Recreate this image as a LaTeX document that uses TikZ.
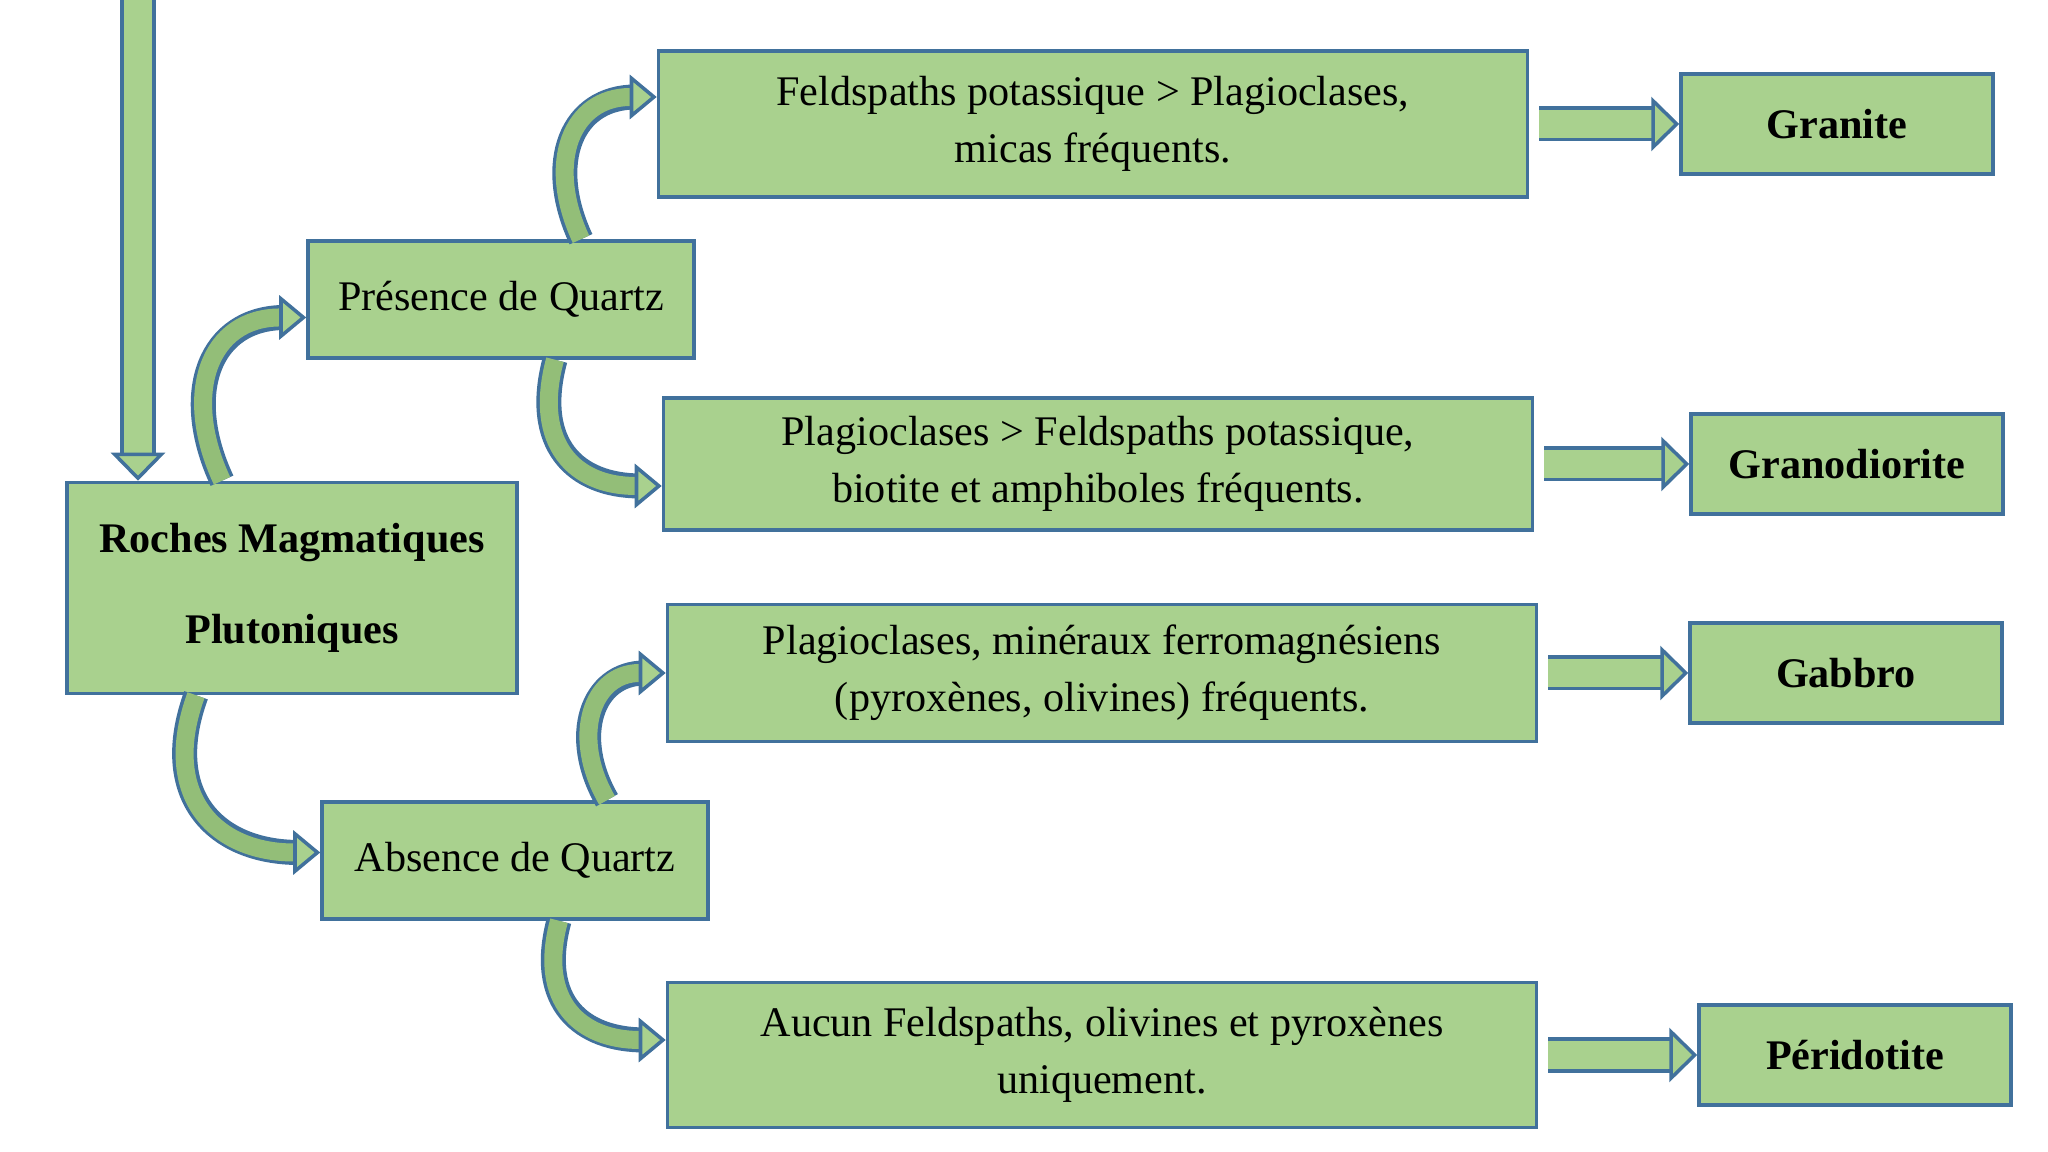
\documentclass[tikz,border=0pt]{standalone}
\usepackage{fontspec}
\setmainfont{Liberation Serif}
\usetikzlibrary{arrows.meta,positioning,calc}
\definecolor{leaf}{HTML}{A9D18E}
\definecolor{leafd}{HTML}{93BE78}
\definecolor{edge}{HTML}{41719C}
\tikzset{
  box/.style={draw=edge,line width=1pt,fill=leaf,align=center,inner sep=3pt,font=\fontsize{12}{16.3}\selectfont},
  mbox/.style={box,minimum width=8.69cm},
  qbox/.style={box,minimum width=3.86cm,minimum height=1.17cm},
  rbox/.style={box,minimum width=3.12cm,minimum height=1.0cm,font=\fontsize{12}{16.3}\selectfont\bfseries},
  blk/.style={line width=0.28cm,draw=leaf,
    preaction={draw=edge,line width=0.28cm+2pt,-,shorten >=7pt},
    -{Triangle[length=0.28cm,width=0.54cm,color=edge,fill=leaf,line width=1pt]}},
  cblk/.style={line width=0.18cm,draw=leafd,looseness=1.35,
    preaction={draw=edge,line width=0.18cm+2pt,-,shorten >=6pt},
    -{Triangle[length=0.27cm,width=0.44cm,color=edge,fill=leaf,line width=1pt]}},
}

\begin{document}
\begin{tikzpicture}
  \useasboundingbox (0,0) rectangle (20.48,11.52);
  \node[box,minimum width=4.5cm,minimum height=2.11cm,font=\fontsize{12}{16.3}\selectfont\bfseries]
       (roches) at (2.92,5.64) {Roches Magmatiques\\[9.5pt]Plutoniques};
  \node[qbox,above=1.21cm of roches.north,xshift=2.09cm] (pres) {Présence de Quartz};
  \node[qbox,below=1.05cm of roches.south,xshift=2.23cm] (abs) {Absence de Quartz};

  \node[mbox,minimum height=1.46cm] (b1) at (10.93,10.28) {Feldspaths potassique > Plagioclases,\\micas fréquents.};
  \node[mbox,minimum height=1.32cm] (b2) at (10.98,6.88) {Plagioclases > Feldspaths potassique,\\biotite et amphiboles fréquents.};
  \node[mbox,minimum height=1.37cm] (b3) at (11.02,4.79) {Plagioclases, minéraux ferromagnésiens\\(pyroxènes, olivines) fréquents.};
  \node[mbox,minimum height=1.45cm] (b4) at (11.02,0.97) {Aucun Feldspaths, olivines et pyroxènes\\uniquement.};

  \node[rbox,right=1.5cm of b1] (granite) {Granite};
  \node[rbox,right=1.55cm of b2] (grano) {Granodiorite};
  \node[rbox,right=1.5cm of b3] (gabbro) {Gabbro};
  \node[rbox,right=1.59cm of b4] (perido) {Péridotite};

  \coordinate (src) at (1.38,11.52);
  \draw[blk] (src) -- (src |- roches.north);

  \draw[cblk] ([xshift=-0.7cm]roches.north) to[out=115,in=180] ([yshift=-0.18cm]pres.west);
  \draw[cblk] ([xshift=-0.96cm]roches.south) to[out=250,in=180] ([yshift=0.08cm]abs.west);
  \draw[cblk] ([xshift=0.8cm]pres.north) to[out=115,in=180] ([yshift=0.27cm]b1.west);
  \draw[cblk] ([xshift=0.54cm]pres.south) to[out=255,in=180] ([yshift=-0.22cm]b2.west);
  \draw[cblk] ([xshift=0.92cm]abs.north) to[out=120,in=180] (b3.west);
  \draw[cblk] ([xshift=0.44cm]abs.south) to[out=255,in=180] ([yshift=0.15cm]b4.west);

  \foreach \a/\b in {b1/granite,b2/grano,b3/gabbro,b4/perido}
    \draw[blk] ([xshift=1mm]\a.east) -- (\b.west);
\end{tikzpicture}
\end{document}
